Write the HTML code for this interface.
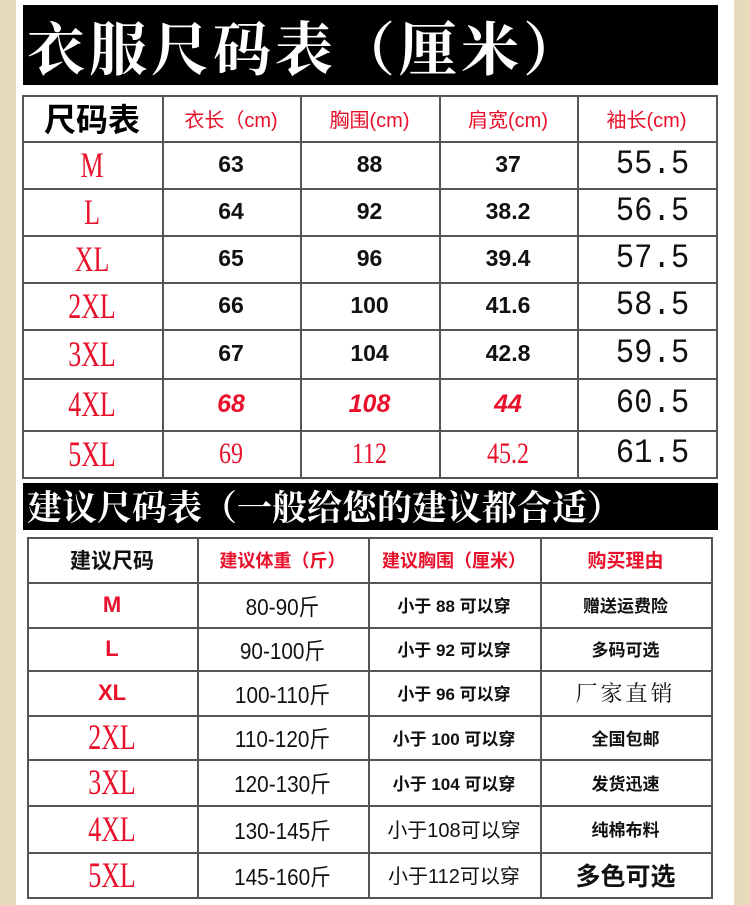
<!DOCTYPE html>
<html><head><meta charset="utf-8"><style>
*{margin:0;padding:0;box-sizing:border-box}
body{width:750px;height:905px;background:#e6dcbc;position:relative;overflow:hidden;font-family:"Liberation Sans","Noto Sans CJK SC",sans-serif}
.inner{position:absolute;left:16px;top:0;width:718px;height:905px;background:#fff}
.bn{position:absolute;background:#000;color:#fff;font-family:"Noto Serif CJK SC","WenQuanYi Zen Hei",serif;font-weight:bold;white-space:nowrap}
.c{position:absolute;display:flex;align-items:center;justify-content:center;white-space:nowrap}
.hl,.vl{position:absolute;background:#555}
.sz{font-family:"Liberation Serif",serif;transform:scaleX(.72);color:#e8102a}
</style></head><body>
<div class="inner"></div>
<div class="bn" style="left:23px;top:5px;width:695px;height:80px;font-size:58px;line-height:80px;padding-left:4px;letter-spacing:4px">衣服尺码表（厘米）</div>
<div class="bn" style="left:23px;top:483px;width:695px;height:47px;font-size:35px;line-height:47px;padding-left:4px">建议尺码表（一般给您的建议都合适）</div>
<div id="t1"></div>
<script>
function grid(x,y){let h='';const L=x[0],R=x[x.length-1],T=y[0],B=y[y.length-1];
y.forEach(v=>h+=`<div class="hl" style="left:${L}px;top:${v}px;width:${R-L+2}px;height:2px"></div>`);
x.forEach(v=>h+=`<div class="vl" style="left:${v}px;top:${T}px;width:2px;height:${B-T+2}px"></div>`);return h;}
function cell(x0,x1,y0,y1,txt,st){return `<div class="c" style="left:${x0}px;top:${y0}px;width:${x1-x0}px;height:${y1-y0}px;${st}">${txt}</div>`}
let X1=[22,162,300,439,577,716],Y1=[95,141,188,235,282,329,378,430,477];
let h=grid(X1,Y1);
let hd=[['尺码表','font-size:32px;color:#000;font-weight:bold'],['衣长（cm)','font-size:20px;color:#e8102a'],['胸围(cm)','font-size:20px;color:#e8102a'],['肩宽(cm)','font-size:20px;color:#e8102a'],['袖长(cm)','font-size:20px;color:#e8102a']];
hd.forEach((d,i)=>h+=cell(X1[i],X1[i+1],Y1[0],Y1[1],d[0],d[1]));
let rows=[['M','63','88','37','55.5'],['L','64','92','38.2','56.5'],['XL','65','96','39.4','57.5'],['2XL','66','100','41.6','58.5'],['3XL','67','104','42.8','59.5'],['4XL','68','108','44','60.5'],['5XL','69','112','45.2','61.5']];
rows.forEach((r,j)=>{let y0=Y1[j+1],y1=Y1[j+2];
h+=cell(X1[0],X1[1],y0,y1,`<span class="sz" style="font-size:36px;display:inline-block">${r[0]}</span>`,'');
for(let i=1;i<4;i++){let st='font-size:23px;font-weight:bold;color:#111';
if(j==5)st='font-size:25px;font-weight:bold;font-style:italic;color:#e8102a';
if(j==6)st="font-size:30px;font-family:'Liberation Serif',serif;color:#e8102a;transform:scaleX(.8)";
h+=cell(X1[i],X1[i+1],y0,y1,r[i],st);}
h+=cell(X1[4]+12,X1[5],y0,y1,r[4],"font-size:34px;font-family:'Liberation Mono',monospace;color:#111;transform:scaleX(.9)");});
let X2=[27,197,368,540,711],Y2=[537,582,627,670,715,759,805,852,897];
h+=grid(X2,Y2);
let hd2=[['建议尺码','font-size:21px;font-weight:bold;color:#111'],['建议体重（斤）','font-size:18px;color:#e8102a;font-weight:bold'],['建议胸围（厘米）','font-size:18px;color:#e8102a;font-weight:bold'],['购买理由','font-size:19px;color:#e8102a;font-weight:bold']];
hd2.forEach((d,i)=>h+=cell(X2[i],X2[i+1],Y2[0],Y2[1],d[0],d[1]));
let r2=[['M','80-90斤','小于 88 可以穿','赠送运费险'],['L','90-100斤','小于 92 可以穿','多码可选'],['XL','100-110斤','小于 96 可以穿','厂家直销'],['2XL','110-120斤','小于 100 可以穿','全国包邮'],['3XL','120-130斤','小于 104 可以穿','发货迅速'],['4XL','130-145斤','小于108可以穿','纯棉布料'],['5XL','145-160斤','小于112可以穿','多色可选']];
r2.forEach((r,j)=>{let y0=Y2[j+1],y1=Y2[j+2];
h+=cell(X2[0],X2[1],y0,y1,j<3?`<span style="font-size:22px;font-weight:bold;color:#e8102a">${r[0]}</span>`:`<span class="sz" style="font-size:36px;display:inline-block">${r[0]}</span>`,'');
h+=cell(X2[1],X2[2],y0,y1,r[1],"font-size:23px;color:#111;font-family:'Liberation Sans Narrow','Liberation Sans','Noto Sans CJK SC',sans-serif;transform:scaleX(.9)");
h+=cell(X2[2],X2[3],y0,y1,r[2],j<5?'font-size:17px;color:#111;font-weight:bold':'font-size:20px;color:#111');
let st=j==2?"font-size:22px;font-family:'Noto Serif CJK SC',serif;color:#111;letter-spacing:3px":(j==6?'font-size:25px;font-weight:bold;color:#111':'font-size:17px;color:#111;font-weight:bold');
h+=cell(X2[3],X2[4],y0,y1,r[3],st);});
document.getElementById('t1').innerHTML=h;
</script>
</body></html>
